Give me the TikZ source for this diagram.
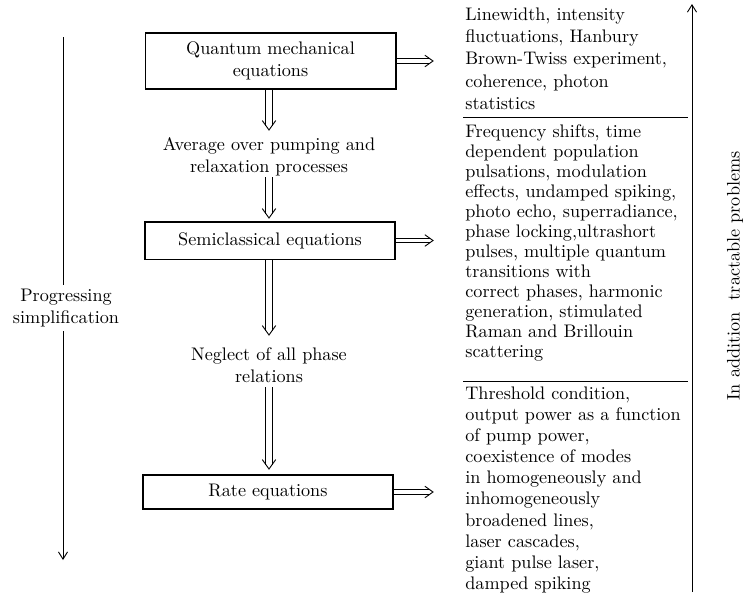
\documentclass[tikz,border=0pt]{standalone}
\usetikzlibrary{arrows.meta}
\newcommand\vdblarrow[2]{%
  \draw[dblline] ([xshift=-1.7pt]#1) -- ([xshift=-1.7pt,yshift=2.4pt]#2);
  \draw[dblline] ([xshift=1.7pt]#1) -- ([xshift=1.7pt,yshift=2.4pt]#2);
  \draw[dblline] ([xshift=-3.7pt,yshift=5.2pt]#2) -- (#2) -- ([xshift=3.7pt,yshift=5.2pt]#2);}
\newcommand\hdblarrow[2]{%
  \draw[dblline] ([yshift=1.2pt]#1) -- ([xshift=-1.7pt,yshift=1.2pt]#2);
  \draw[dblline] ([yshift=-1.2pt]#1) -- ([xshift=-1.7pt,yshift=-1.2pt]#2);
  \draw[dblline] ([xshift=-4.5pt,yshift=3.2pt]#2) -- (#2) -- ([xshift=-4.5pt,yshift=-3.2pt]#2);}
\begin{document}
\begin{tikzpicture}[x=0.55pt,y=-0.55pt,
  font=\fontsize{10}{12}\selectfont,
  box/.style={draw, line width=0.6pt, inner sep=0pt, align=center},
  lbl/.style={align=center, inner sep=0pt},
  dblline/.style={line width=0.5pt, line join=miter},
  side/.style={align=left, anchor=north west, inner sep=0pt},
  axis/.style={line width=0.5pt, -{Straight Barb[length=4pt,width=5pt]}},
  sep/.style={line width=0.5pt}]
\useasboundingbox (0,0) rectangle (747,597);

% main chain
\node[box, minimum width=138pt, minimum height=30.8pt] (qm) at (270.5,61) {Quantum mechanical\\equations};
\node[lbl] (avg) at (269,156.5) {Average over pumping and\\relaxation processes};
\node[box, minimum width=137.5pt, minimum height=20.4pt] (sc) at (270,240.5) {Semiclassical equations};
\node[lbl] (neg) at (269,365) {Neglect of all phase\\relations};
\node[box, minimum width=137.5pt, minimum height=18.7pt] (rate) at (268,492) {Rate equations};

\coordinate (a1s) at (qm.south -| avg);
\coordinate (a1e) at (269,130);
\coordinate (a2s) at (269,177);
\coordinate (a2e) at (269,218);
\coordinate (a3s) at (sc.south -| neg);
\coordinate (a3e) at (269,335);
\coordinate (a4s) at (269,387);
\coordinate (a4e) at (269,469);
\vdblarrow{a1s}{a1e}
\vdblarrow{a2s}{a2e}
\vdblarrow{a3s}{a3e}
\vdblarrow{a4s}{a4e}

% side arrows
\coordinate (tip) at (433,0);
\coordinate (r1e) at (qm.east -| tip);
\coordinate (r2e) at (sc.east -| tip);
\coordinate (r3e) at (rate.east -| tip);
\hdblarrow{qm.east}{r1e}
\hdblarrow{sc.east}{r2e}
\hdblarrow{rate.east}{r3e}

% right column
\node[side, font=\fontsize{10}{12.2}\selectfont] (t1) at (465,7.5) {Linewidth, intensity\\fluctuations, Hanbury\\Brown-Twiss experiment,\\coherence, photon\\statistics};
\node[side, font=\fontsize{10}{11}\selectfont] (t2) at (465,124.5) {Frequency shifts, time\\dependent population\\pulsations, modulation\\effects, undamped spiking,\\photo echo, superradiance,\\phase locking,ultrashort\\pulses, multiple quantum\\transitions with\\correct phases, harmonic\\generation, stimulated\\Raman and Brillouin\\scattering};
\node[side, font=\fontsize{10}{11.6}\selectfont] (t3) at (465,386.5) {Threshold condition,\\output power as a function\\of pump power,\\coexistence of modes\\in homogeneously and\\inhomogeneously\\broadened lines,\\laser cascades,\\giant pulse laser,\\damped spiking};

\coordinate (s1a) at (463,117);
\coordinate (s1b) at (688,117);
\coordinate (s2a) at (463,381);
\coordinate (s2b) at (688,381);
\draw[sep] (s1a) -- (s1b);
\draw[sep] (s2a) -- (s2b);

% vertical axes
\coordinate (ra) at (692,592);
\coordinate (rb) at (692,4);
\draw[axis] (ra) -- (rb);
\node[rotate=90, inner sep=0pt] (rl) at (735,276) {In addition\ \ tractable problems};

\coordinate (la) at (63,37);
\coordinate (lb) at (63,560);
\draw[axis] (la) -- (lb);
\node[lbl, fill=white, inner sep=2pt] (ll) at (66,308) {Progressing\\simplification};
\end{tikzpicture}
\end{document}
